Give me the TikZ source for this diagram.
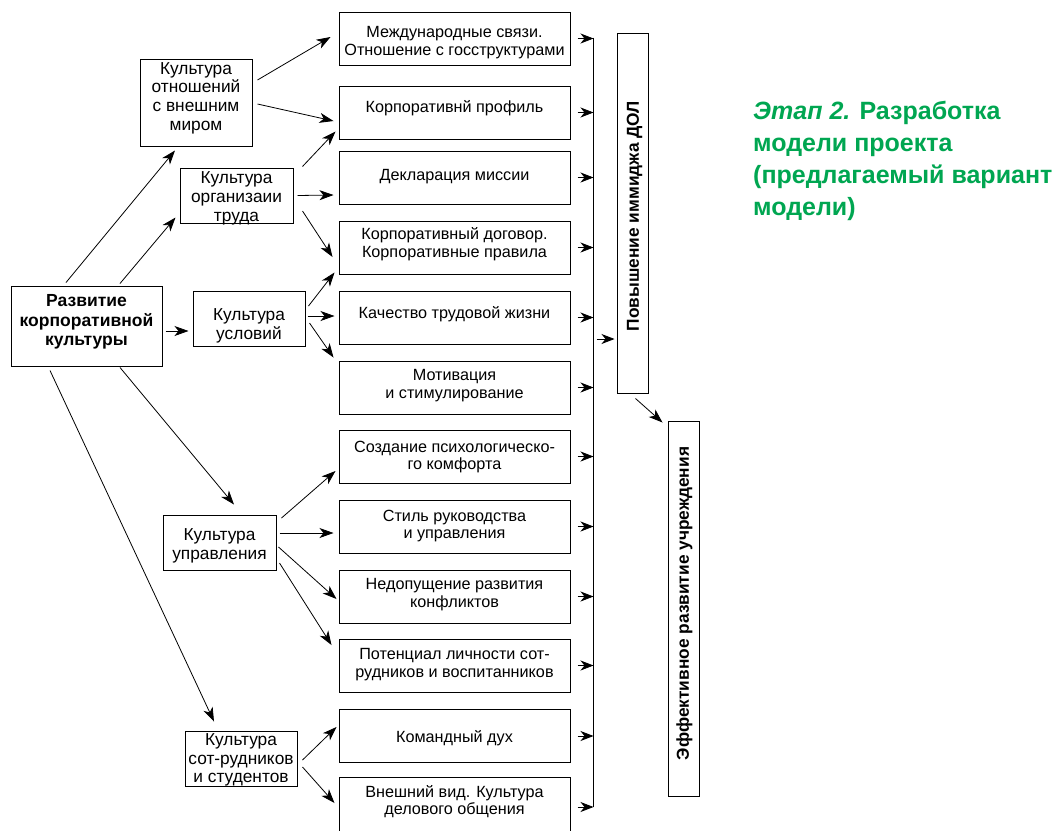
\documentclass[tikz,border=0pt]{standalone}
\usepackage{fontspec}
\setmainfont{Liberation Sans}
\usetikzlibrary{arrows.meta,calc}
\definecolor{ttlgreen}{RGB}{0,166,81}
\begin{document}
\begin{tikzpicture}[x=1pt,y=-1pt,
  box/.style={draw,line width=1pt,inner sep=0pt},
  rbox/.style={box,minimum width=231pt,minimum height=53pt},
  lbox/.style={box,minimum width=112pt,minimum height=55pt},
  rtxt/.style={align=center,inner sep=0pt,font=\fontsize{16.2}{17.8}\selectfont},
  ltxt/.style={align=center,inner sep=0pt,font=\fontsize{17.3}{18.7}\selectfont},
  vtxt/.style={rotate=90,inner sep=0pt,font=\bfseries\fontsize{17.3}{18}\selectfont},
  arr/.style={line width=0.8pt,-{Stealth[length=14pt,width=10pt,inset=4pt]}},
  barr/.style={line width=0.8pt,-{Stealth[length=13pt,width=10pt,inset=4pt]}}]
\useasboundingbox (0,0) rectangle (1060,830);
% right column boxes
\node[rbox] (r1) at (454.5,38.5) {};
\node[rbox] (r2) at (454.5,112.5) {};
\node[rbox] (r3) at (454.5,177.5) {};
\node[rbox] (r4) at (454.5,247.5) {};
\node[rbox] (r5) at (454.5,317.5) {};
\node[rbox] (r6) at (454.5,387.5) {};
\node[rbox] (r7) at (454.5,456.5) {};
\node[rbox] (r8) at (454.5,526.5) {};
\node[rbox] (r9) at (454.5,596.5) {};
\node[rbox] (r10) at (454.5,665.5) {};
\node[rbox] (r11) at (454.5,736) {};
\node[rbox,minimum height=57pt] (r12) at (454.5,805.5) {};
\node[rtxt] (r1t) at ($(r1)+(0,4)$) {Международные связи.\\Отношение с госструктурами};
\node[rtxt] (r2t) at ($(r2)+(0,-4.5)$) {Корпоративнй профиль};
\node[rtxt] (r3t) at ($(r3)+(0,-1)$) {Декларация миссии};
\node[rtxt] (r4t) at ($(r4)+(0,-3)$) {Корпоративный договор.\\Корпоративные правила};
\node[rtxt] (r5t) at ($(r5)+(0,-3)$) {Качество трудовой жизни};
\node[rtxt] (r6t) at ($(r6)+(0,-1.5)$) {Мотивация\\и стимулирование};
\node[rtxt] (r7t) at ($(r7)+(0,0.5)$) {Создание психологическо-\\го комфорта};
\node[rtxt] (r8t) at ($(r8)+(0,-0.5)$) {Стиль руководства\\и управления};
\node[rtxt] (r9t) at ($(r9)+(0,-2)$) {Недопущение развития\\конфликтов};
\node[rtxt] (r10t) at ($(r10)+(0,-1)$) {Потенциал личности сот-\\рудников и воспитанников};
\node[rtxt] (r11t) at ($(r11)+(0,2)$) {Командный дух};
\node[rtxt] (r12t) at ($(r12)+(0,-4)$) {Внешний вид. Культура\\делового общения};
% left column
\node[box,minimum width=151pt,minimum height=80pt] (L0) at (86.5,326) {};
\node[lbox,minimum height=87pt] (La) at (196,102.5) {};
\node[lbox,minimum width=113pt] (Lb) at (236.5,195.5) {};
\node[lbox] (Lc) at (249,318.5) {};
\node[lbox,minimum width=113pt] (Ld) at (219.5,542.5) {};
\node[lbox] (Le) at (241,758.5) {};
\node[ltxt,font=\bfseries\fontsize{17.5}{19.5}\selectfont] (L0t) at ($(L0)+(0,-4)$) {Развитие\\корпоративной\\культуры};
\node[ltxt] (Lat) at ($(La)+(0,-4.5)$) {Культура\\отношений\\с внешним\\миром};
\node[ltxt] (Lbt) at ($(Lb)+(0,3)$) {Культура\\организаии\\труда};
\node[ltxt] (Lct) at ($(Lc)+(0,7)$) {Культура\\условий};
\node[ltxt] (Ldt) at ($(Ld)+(0,3.5)$) {Культура\\управления};
\node[ltxt] (Let) at ($(Le)+(0,1.5)$) {Культура\\сот-рудников\\и студентов};
% vertical boxes
\node[box,minimum width=31pt,minimum height=360pt] (dol) at (632.5,213) {};
\node[box,minimum width=31pt,minimum height=375pt] (eff) at (683.5,608.5) {};
\node[vtxt] (dolt) at ($(dol)+(2,3)$) {Повышение иммиджа ДОЛ};
\node[vtxt] (efft) at ($(eff)+(1,-5)$) {Эффективное развитие учреждения};
% title
\node[anchor=north west,align=left,inner sep=0pt,text=ttlgreen,font=\bfseries\fontsize{25}{32}\selectfont] (ttl) at (753,101) {\textit{Этап 2.} Разработка\\модели проекта\\(предлагаемый вариант\\модели)};
% arrows from root
\draw[arr] ($(L0.north)+(-20.5,-3)$) -- ($(La.south)+(-21,4)$);
\draw[arr] ($(L0.north)+(33.5,-2)$) -- ($(Lb.south west)+(-4,-6)$);
\draw[arr] ($(L0.east)+(3,5)$) -- ($(Lc.west)+(-4,12.5)$);
\draw[arr] ($(L0.south)+(33.5,1)$) -- ($(Ld.north)+(14.5,-10)$);
\draw[arr] ($(L0.south)+(-36.5,4)$) -- ($(Le.north)+(-27,-9)$);
% La
\draw[arr] ($(La.east)+(5,-22.5)$) -- ($(r1.west)+(-8,-1.5)$);
\draw[arr] ($(La.east)+(5,1.5)$) -- ($(r2.west)+(-5,8.5)$);
% Lb
\draw[arr] ($(Lb.north east)+(9,-1)$) -- ($(r2.south west)+(-3,-8)$);
\draw[arr] ($(Lb.east)+(4,0)$) -- ($(r3.west)+(-5,17.5)$);
\draw[arr] ($(Lb.east)+(9,15.5)$) -- ($(r4.west)+(-6,9.5)$);
% Lc
\draw[arr] ($(Lc.east)+(3,-12.5)$) -- ($(r4.south west)+(-4,-2)$);
\draw[arr] ($(Lc.east)+(2,-2.5)$) -- ($(r5.west)+(-4,-1.5)$);
\draw[arr] ($(Lc.east)+(4,4.5)$) -- ($(r6.north west)+(-5,-3)$);
% Ld
\draw[arr] ($(Ld.east)+(5,-24.5)$) -- ($(r7.west)+(-3,14.5)$);
\draw[arr] ($(Ld.east)+(3,-9.5)$) -- ($(r8.west)+(-5,6.5)$);
\draw[arr] ($(Ld.east)+(2,4.5)$) -- ($(r9.west)+(-2,2.5)$);
\draw[arr] ($(Ld.east)+(3,20.5)$) -- ($(r10.west)+(-7,-20.5)$);
% Le
\draw[arr] ($(Le.east)+(5,1.5)$) -- ($(r11.west)+(-2,-9)$);
\draw[arr] ($(Le.east)+(5,8.5)$) -- ($(r12.west)+(-4,-2.5)$);
% bus
\draw[line width=0.8pt] ($(r1.east)+(23,-1)$) -- ($(r12.east)+(23,1.5)$);
\foreach \r in {r1,r2,r3,r4,r5,r6,r7,r8,r9,r10,r11}
  \draw[barr] ($(\r.east)+(7,0)$) -- ($(\r.east)+(23,0)$);
\draw[barr] ($(r12.east)+(7,1.5)$) -- ($(r12.east)+(23,1.5)$);
\draw[barr] ($(dol.west)+(-20,126)$) -- ($(dol.west)+(-2,126)$);
\draw[arr] ($(dol.south)+(3,5)$) -- ($(eff.north west)+(-5,2)$);
\end{tikzpicture}
\end{document}
